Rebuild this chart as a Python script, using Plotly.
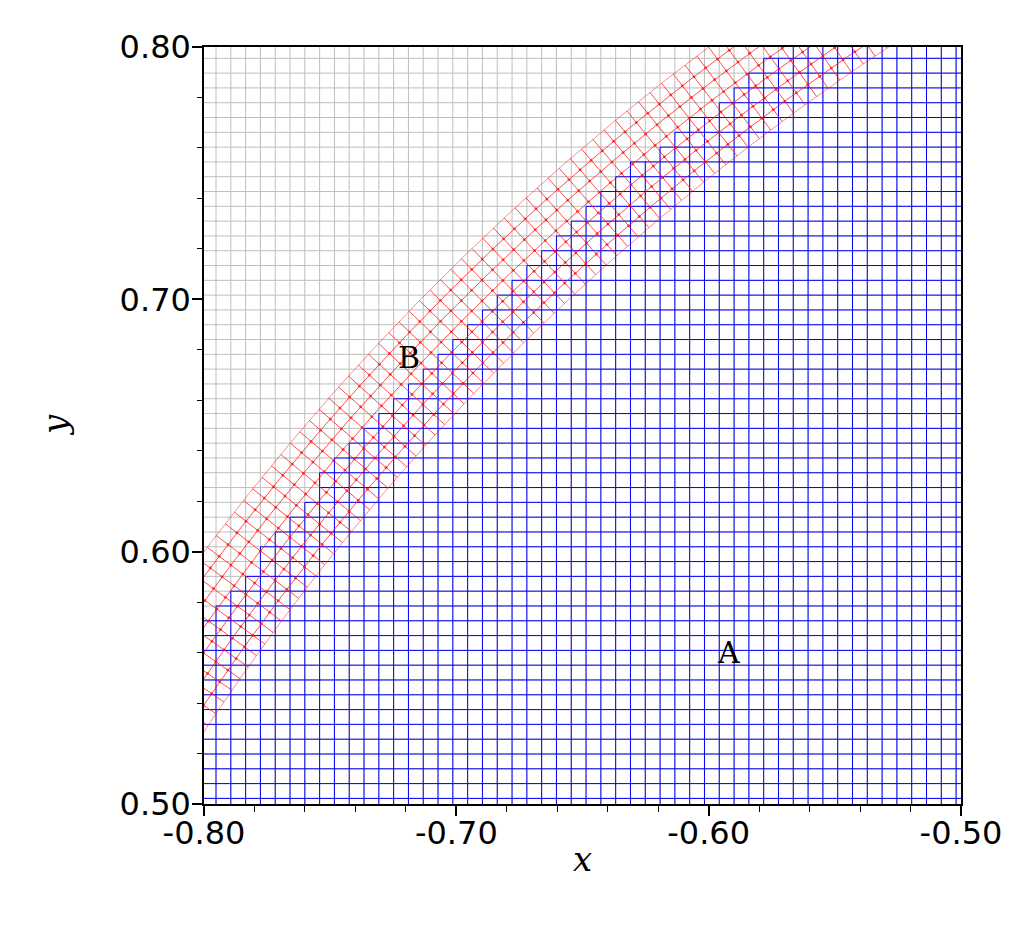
import numpy as np
import plotly.graph_objects as go

# square boxes of the covering (gray = all boxes, blue = boxes of set A)
grid_step = 0.005866
grid_x0 = -0.79524          # left edge of box column 0
grid_y0 = 0.50222           # bottom edge of box row 0
grid_cols = list(range(-1, 51))
# index of the top edge of the blue boxes in each column (column -1 .. 50)
blue_tops = [12, 13, 14, 15, 17, 18, 19, 20, 22, 23, 24, 25, 26, 27, 28, 29,
             30, 31, 32, 33, 34, 35, 36, 37, 38, 39, 40, 41, 42, 43, 43, 44,
             45, 46, 46, 47, 48, 49, 50, 50, 51, 51, 51, 51, 51, 51, 51, 51,
             51, 51, 51, 51]

# polar boxes of set B (annulus around the origin)
band_radii = [1.0, 0.99413, 0.98827, 0.98240, 0.97653, 0.97067, 0.96480, 0.95894]
band_theta0 = 2.1733
band_theta_step = 0.005866
band_theta_idx = list(range(-10, 78))

x_ticks = [-0.80, -0.70, -0.60, -0.50]
x_ticktext = ["-0.80", "-0.70", "-0.60", "-0.50"]
y_ticks = [0.50, 0.60, 0.70, 0.80]
y_ticktext = ["0.50", "0.60", "0.70", "0.80"]
x_minor = [-0.78, -0.76, -0.74, -0.72, -0.68, -0.66, -0.64, -0.62,
           -0.58, -0.56, -0.54, -0.52]
y_minor = [0.52, 0.54, 0.56, 0.58, 0.62, 0.64, 0.66, 0.68,
           0.72, 0.74, 0.76, 0.78]


def gx(i):
    return grid_x0 + i * grid_step


def gy(j):
    return grid_y0 + j * grid_step


def add_seg(xs, ys, x1, y1, x2, y2):
    xs += [x1, x2, None]
    ys += [y1, y2, None]


fig = go.Figure()

# gray grid over the whole picture
gray_x, gray_y = [], []
for i in range(-1, 53):
    add_seg(gray_x, gray_y, gx(i), gy(-2), gx(i), gy(53))
for j in range(-1, 53):
    add_seg(gray_x, gray_y, gx(-2), gy(j), gx(53), gy(j))
fig.add_trace(go.Scatter(x=gray_x, y=gray_y, mode="lines",
                         line=dict(color="#bebebe", width=1),
                         hoverinfo="skip", showlegend=False))

# blue boxes
tops = dict(zip(grid_cols, blue_tops))
blue_x, blue_y = [], []
for i in range(grid_cols[0], grid_cols[-1] + 2):
    top = max(tops.get(i - 1, 0), tops.get(i, 0))
    add_seg(blue_x, blue_y, gx(i), gy(-1), gx(i), gy(top))
for j in range(-1, max(blue_tops) + 1):
    first = [c for c in grid_cols if tops[c] >= j]
    if first:
        add_seg(blue_x, blue_y, gx(first[0]), gy(j), gx(grid_cols[-1] + 1), gy(j))
fig.add_trace(go.Scatter(x=blue_x, y=blue_y, mode="lines",
                         line=dict(color="#0000ff", width=1),
                         hoverinfo="skip", showlegend=False))

# red polar boxes
thetas = [band_theta0 + m * band_theta_step for m in band_theta_idx]
t_fine = np.linspace(thetas[0], thetas[-1], 600)
red_x, red_y = [], []
edge_x, edge_y = [], []
for k, r in enumerate(band_radii):
    xs = list(r * np.cos(t_fine)) + [None]
    ys = list(r * np.sin(t_fine)) + [None]
    if k in (0, len(band_radii) - 1):
        edge_x += xs
        edge_y += ys
    else:
        red_x += xs
        red_y += ys
for t in thetas:
    add_seg(red_x, red_y, band_radii[0] * np.cos(t), band_radii[0] * np.sin(t),
            band_radii[-1] * np.cos(t), band_radii[-1] * np.sin(t))
fig.add_trace(go.Scatter(x=edge_x, y=edge_y, mode="lines",
                         line=dict(color="rgba(255,0,0,0.45)", width=1),
                         hoverinfo="skip", showlegend=False))
fig.add_trace(go.Scatter(x=red_x, y=red_y, mode="lines",
                         line=dict(color="rgba(255,20,20,0.75)", width=1),
                         hoverinfo="skip", showlegend=False))

dot_x = [r * np.cos(t) for r in band_radii[1:-1] for t in thetas]
dot_y = [r * np.sin(t) for r in band_radii[1:-1] for t in thetas]
fig.add_trace(go.Scatter(x=dot_x, y=dot_y, mode="markers",
                         marker=dict(color="rgba(255,0,0,0.6)", size=3, line=dict(width=0)),
                         cliponaxis=True, hoverinfo="skip", showlegend=False))

axis_font = dict(family="DejaVu Sans", size=32, color="black")
fig.update_xaxes(
    range=[-0.8, -0.5], showgrid=False, zeroline=False,
    showline=True, linecolor="black", linewidth=1.5, mirror=True,
    ticks="outside", ticklen=10, tickwidth=1.5, tickcolor="black",
    tickmode="array", tickvals=x_ticks, ticktext=x_ticktext, tickfont=axis_font,
    ticklabelstandoff=-10,
    minor=dict(tickmode="array", tickvals=x_minor, ticks="outside",
               ticklen=6, tickwidth=1, tickcolor="black", showgrid=False)
)
fig.update_yaxes(
    range=[0.5, 0.8], showgrid=False, zeroline=False,
    showline=True, linecolor="black", linewidth=1.5, mirror=True,
    ticks="outside", ticklen=10, tickwidth=1.5, tickcolor="black",
    tickmode="array", tickvals=y_ticks, ticktext=y_ticktext, tickfont=axis_font,
    ticklabelstandoff=-5,
    minor=dict(tickmode="array", tickvals=y_minor, ticks="outside",
               ticklen=5, tickwidth=1, tickcolor="black", showgrid=False)
)

label_font = dict(family="DejaVu Serif", size=30, color="black")
title_font = dict(family="DejaVu Serif", size=34, color="black")
fig.add_annotation(x=-0.5923, y=0.5602, text="A", showarrow=False, font=label_font)
fig.add_annotation(x=-0.7187, y=0.6771, text="B", showarrow=False, font=label_font)
fig.add_annotation(x=0.5, y=-0.0727, xref="paper", yref="paper", text="<i>x</i>",
                   xanchor="center", yanchor="middle", showarrow=False, font=title_font)
fig.add_annotation(x=-0.1968, y=0.5007, xref="paper", yref="paper", text="<i>y</i>",
                   xanchor="center", yanchor="middle", textangle=-90,
                   showarrow=False, font=title_font)

fig.update_layout(
    width=1016, height=940,
    margin=dict(l=196, r=63, t=39, b=144),
    plot_bgcolor="white", paper_bgcolor="white",
    showlegend=False
)

fig.write_html("out.html")
